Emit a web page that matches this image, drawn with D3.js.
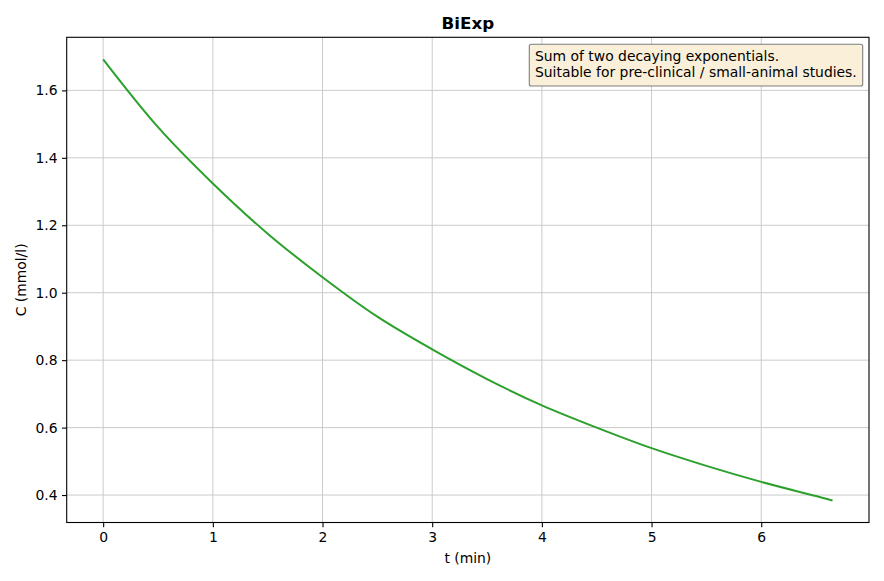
<!DOCTYPE html>
<html>
<head>
<meta charset="utf-8">
<script src="https://cdn.jsdelivr.net/npm/d3@7/dist/d3.min.js"></script>
<style>
  html, body { margin: 0; padding: 0; background: #fff; }
  svg { display: block; font-family: "DejaVu Sans", sans-serif; }
</style>
</head>
<body>
<svg id="chart" width="884" height="581"></svg>
<script>
// ---- data ----
const timeMin = [0, 0.5, 1.0, 1.5, 2.0, 2.5, 3.0, 3.5, 4.0, 4.5, 5.0, 5.5, 6.0, 6.5, 6.65];
const concentration = [1.692, 1.491, 1.324, 1.175, 1.046, 0.929, 0.832, 0.744, 0.666, 0.600, 0.539, 0.4865, 0.439, 0.397, 0.384];
const xTicks = [0, 1, 2, 3, 4, 5, 6];
const yTicks = [0.4, 0.6, 0.8, 1.0, 1.2, 1.4, 1.6];
const titleText = "BiExp";
const xLabel = "t (min)";
const yLabel = "C (mmol/l)";
const noteLines = ["Sum of two decaying exponentials.", "Suitable for pre-clinical / small-animal studies."];

const svg = d3.select("#chart");
const plot = { left: 66.7, right: 869, top: 37.3, bottom: 522.5 };
const FS = "13.9px";

const data = timeMin.map((t, i) => ({ t, c: concentration[i] }));

function padded(ext) {
  const d = (ext[1] - ext[0]) * 0.05;
  return [ext[0] - d, ext[1] + d];
}
const x = d3.scaleLinear().domain(padded(d3.extent(timeMin))).range([plot.left, plot.right]);
const y = d3.scaleLinear().domain(padded(d3.extent(concentration))).range([plot.bottom, plot.top]);

// grid
const grid = svg.append("g");
grid.selectAll(".gx").data(xTicks).enter().append("line")
  .attr("x1", d => x(d)).attr("x2", d => x(d))
  .attr("y1", plot.top).attr("y2", plot.bottom)
  .attr("stroke", "#cbcbcb").attr("stroke-width", 1);
grid.selectAll(".gy").data(yTicks).enter().append("line")
  .attr("x1", plot.left).attr("x2", plot.right)
  .attr("y1", d => y(d)).attr("y2", d => y(d))
  .attr("stroke", "#cbcbcb").attr("stroke-width", 1);

// line
const line = d3.line().x(d => x(d.t)).y(d => y(d.c)).curve(d3.curveCatmullRom.alpha(0.5));
svg.append("path").datum(data)
  .attr("d", line)
  .attr("fill", "none")
  .attr("stroke", "#2ca02c")
  .attr("stroke-width", 2);

// axes
const xAxis = d3.axisBottom(x).tickValues(xTicks).tickFormat(d3.format("d")).tickSize(4.7).tickPadding(4.5);
const yAxis = d3.axisLeft(y).tickValues(yTicks).tickFormat(d3.format(".1f")).tickSize(4.7).tickPadding(4.5);

const gx = svg.append("g").attr("transform", `translate(0,${plot.bottom})`).call(xAxis);
const gy = svg.append("g").attr("transform", `translate(${plot.left},0)`).call(yAxis);
[gx, gy].forEach(g => {
  g.select(".domain").remove();
  g.selectAll("line").attr("stroke", "#000").attr("stroke-width", 1.1);
  g.selectAll("text").attr("fill", "#000").style("font-size", FS).style("font-family", "DejaVu Sans, sans-serif");
});

// spines
svg.append("rect")
  .attr("x", plot.left).attr("y", plot.top)
  .attr("width", plot.right - plot.left).attr("height", plot.bottom - plot.top)
  .attr("fill", "none").attr("stroke", "#000").attr("stroke-width", 1.1);

// title and labels
const cx = (plot.left + plot.right) / 2;
svg.append("text").attr("x", cx).attr("y", 29).attr("text-anchor", "middle")
  .style("font-size", "16.7px").style("font-weight", "bold").text(titleText);
svg.append("text").attr("x", cx).attr("y", 562.5).attr("text-anchor", "middle")
  .style("font-size", FS).text(xLabel);
svg.append("text").attr("transform", `translate(25.5,${(plot.top + plot.bottom) / 2}) rotate(-90)`)
  .attr("text-anchor", "middle").style("font-size", FS).text(yLabel);

// note box
const note = svg.append("g");
const boxRect = note.append("rect");
const noteText = note.append("text").style("font-size", FS);
noteLines.forEach((s, i) => {
  noteText.append("tspan").attr("x", 535).attr("y", 60.5 + i * 16.5).text(s);
});
boxRect.attr("x", 529.3).attr("y", 44.3)
  .attr("width", 862.7 - 529.3).attr("height", 86 - 44.3)
  .attr("rx", 2).attr("ry", 2)
  .attr("fill", "rgb(250,239,217)")
  .attr("stroke", "#7f7f7f").attr("stroke-width", 1.1);
</script>
</body>
</html>
